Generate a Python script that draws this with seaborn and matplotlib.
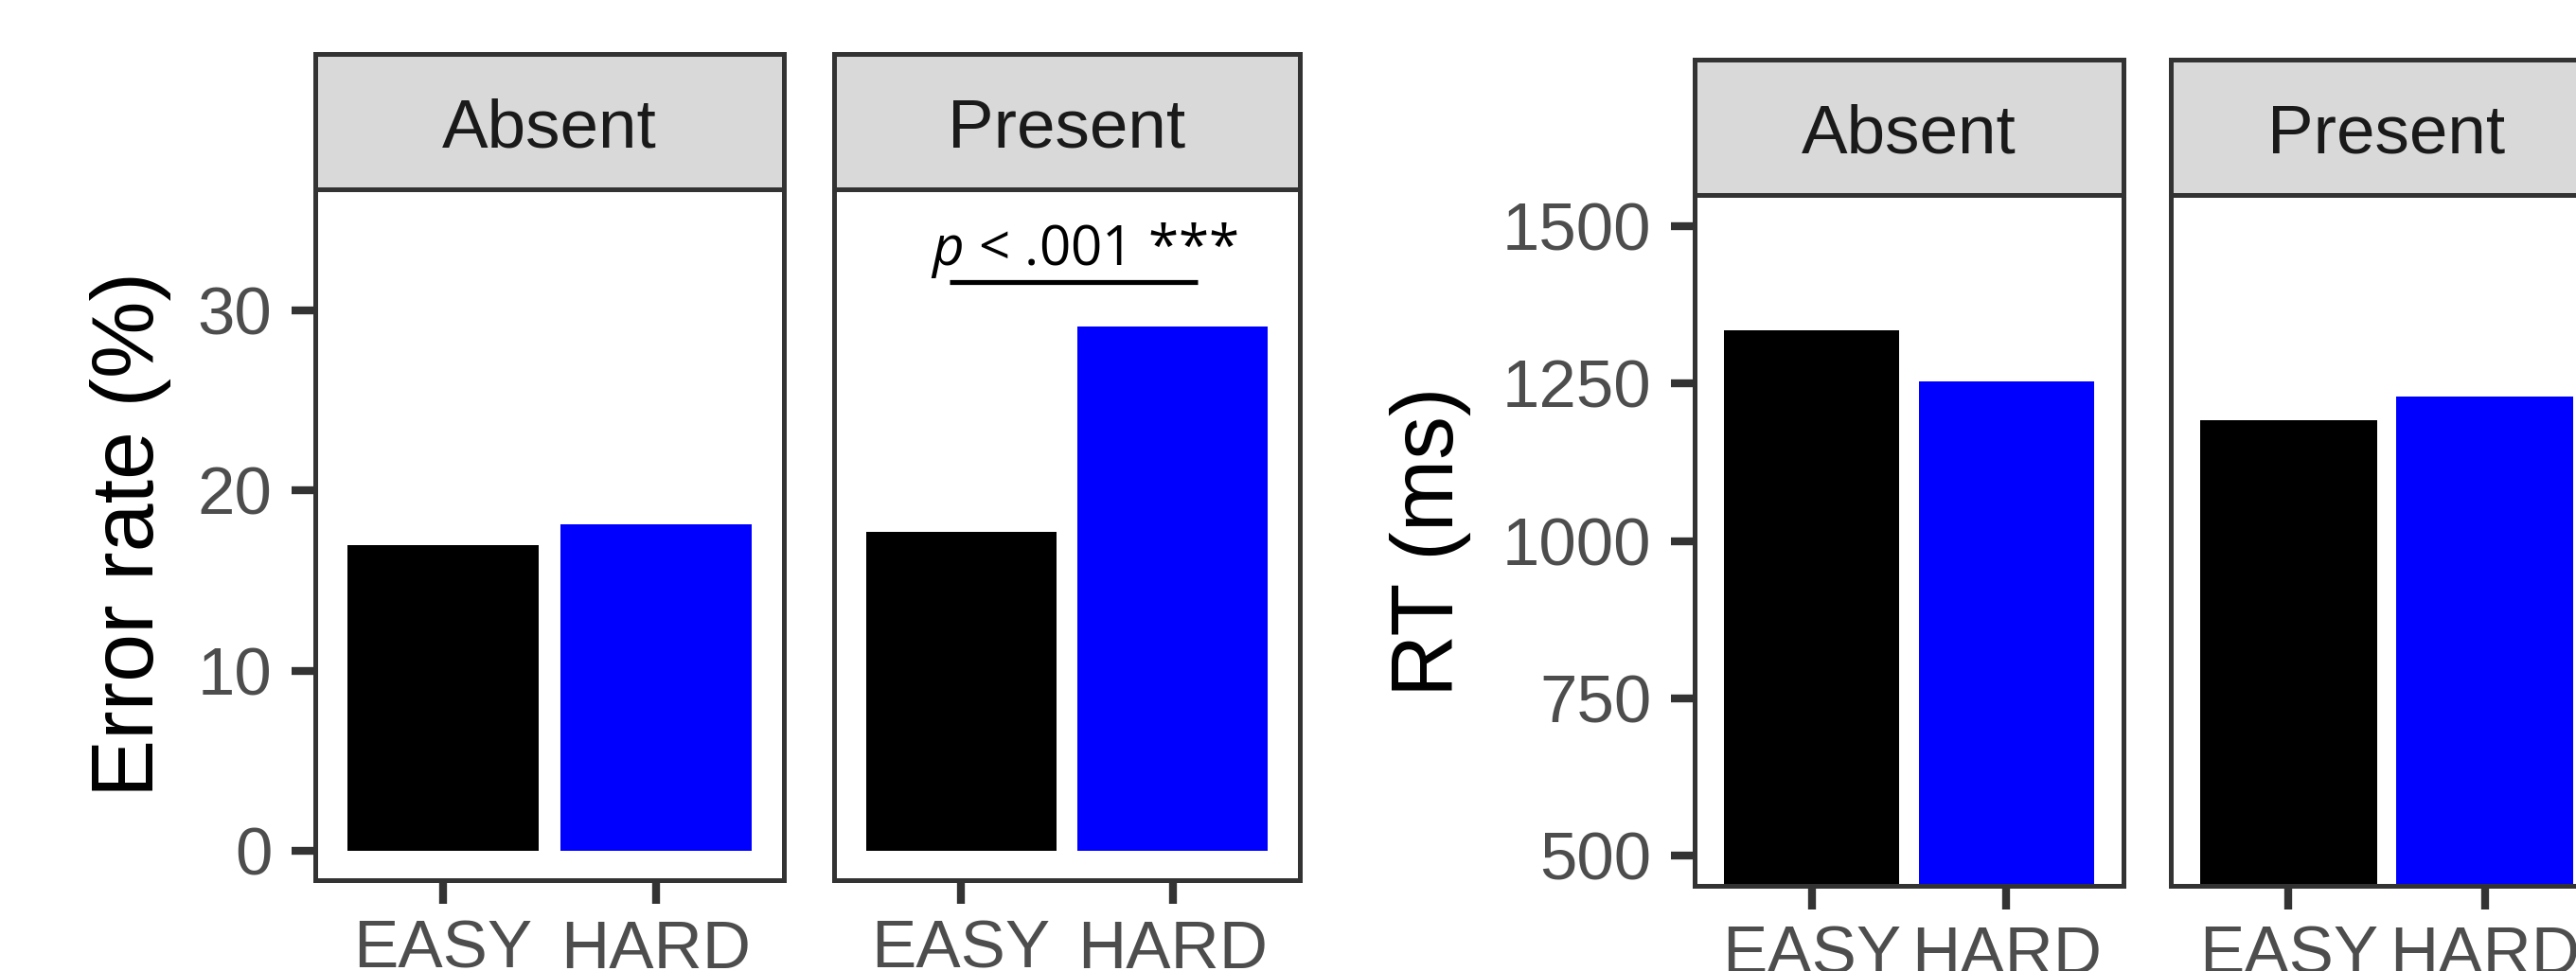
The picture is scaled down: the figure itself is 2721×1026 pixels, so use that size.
import matplotlib
matplotlib.use("Agg")
import matplotlib.pyplot as plt
import seaborn as sns
import pandas as pd

# ---- data -------------------------------------------------------------
conditions = ["Absent", "Present"]
difficulty = ["EASY", "HARD"]
error_absent = [16.97, 18.13]
error_present = [17.71, 29.11]
rt_absent = [1334, 1254]
rt_present = [1192, 1230]

error_ticks = [0, 10, 20, 30]
rt_ticks = [500, 750, 1000, 1250, 1500]
error_limits = (-1.63, 36.73)
rt_limits = (452, 1550)

sig_label = r"$\it{p}$ < .001 ***"
sig_bracket_x = (0.945, 2.116)     # in factor units (EASY = 1, HARD = 2)
sig_bracket_y = 31.57
sig_text_x = 1.582
sig_text_y = 32.53

bar_colors = {"EASY": "#000000", "HARD": "#0000FF"}

# ---- style ------------------------------------------------------------
sns.set_style("white")
plt.rcParams["font.family"] = ["Liberation Sans", "DejaVu Sans"]
plt.rcParams["mathtext.fontset"] = "custom"
plt.rcParams["mathtext.rm"] = "Open Sans"
plt.rcParams["mathtext.it"] = "Open Sans:italic"

W, H = 2721, 1026
DPI = 300
fig = plt.figure(figsize=(W / DPI, H / DPI), dpi=DPI)
fig.patch.set_facecolor("white")

DARK = "#333333"
TICK_TXT = "#4D4D4D"
LW = 1.2


def frac_rect(x0, x1, ytop, ybot):
    return [x0 / W, 1 - ybot / H, (x1 - x0) / W, (ybot - ytop) / H]


def make_df(vals):
    return pd.DataFrame({"difficulty": difficulty, "value": vals})


def draw_panel(rect, strip_rect, title, vals, ylim, yticks, show_y):
    ax = fig.add_axes(rect)
    sns.barplot(data=make_df(vals), x="difficulty", y="value",
                hue="difficulty", palette=bar_colors, order=difficulty,
                hue_order=difficulty, width=0.9, saturation=1,
                errorbar=None, legend=False, linewidth=0, ax=ax)
    ax.set_xlim(-0.6, 1.6)
    ax.set_ylim(*ylim)
    ax.set_yticks(yticks)
    ax.set_xlabel("")
    ax.set_ylabel("")
    for s in ax.spines.values():
        s.set_visible(True)
        s.set_color(DARK)
        s.set_linewidth(LW)
    ax.tick_params(axis="x", length=6, width=2, color=DARK, pad=4,
                   labelsize=17, labelcolor=TICK_TXT, bottom=True)
    ax.tick_params(axis="y", length=6, width=2, color=DARK, pad=5,
                   labelsize=17, labelcolor=TICK_TXT, left=show_y,
                   labelleft=show_y)
    ax.grid(False)

    sx = fig.add_axes(strip_rect)
    sx.set_facecolor("#D9D9D9")
    sx.set_xticks([])
    sx.set_yticks([])
    for s in sx.spines.values():
        s.set_color(DARK)
        s.set_linewidth(LW)
    sx.text(0.5, 0.312, title, transform=sx.transAxes, ha="center",
            va="baseline", fontsize=17.5, color="#1A1A1A")
    return ax


# ---- error rate chart -------------------------------------------------
ax_e_abs = draw_panel(frac_rect(333, 828, 200, 930),
                      frac_rect(333, 828, 57.3, 200),
                      conditions[0], error_absent, error_limits,
                      error_ticks, True)
ax_e_pre = draw_panel(frac_rect(881, 1373, 200, 930),
                      frac_rect(881, 1373, 57.3, 200),
                      conditions[1], error_present, error_limits,
                      error_ticks, False)

ax_e_pre.plot([sig_bracket_x[0] - 1, sig_bracket_x[1] - 1],
              [sig_bracket_y, sig_bracket_y], color="black", lw=1.25,
              solid_capstyle="butt")
ax_e_pre.text(sig_text_x - 1, sig_text_y, sig_label, ha="center",
              va="baseline", fontsize=14, color="black",
              family="Open Sans")

fig.text(138 / W, 1 - 565 / H, "Error rate (%)", rotation=90,
         ha="center", va="center", fontsize=22, color="black")

# ---- RT chart ---------------------------------------------------------
draw_panel(frac_rect(1790, 2243, 205.7, 936),
           frac_rect(1790, 2243, 63, 205.7),
           conditions[0], rt_absent, rt_limits, rt_ticks, True)
draw_panel(frac_rect(2293, 2749, 205.7, 936),
           frac_rect(2293, 2749, 63, 205.7),
           conditions[1], rt_present, rt_limits, rt_ticks, False)

fig.text(1511 / W, 1 - 572 / H, "RT (ms)", rotation=90,
         ha="center", va="center", fontsize=22, color="black")

fig.savefig("out.png", dpi=DPI)
